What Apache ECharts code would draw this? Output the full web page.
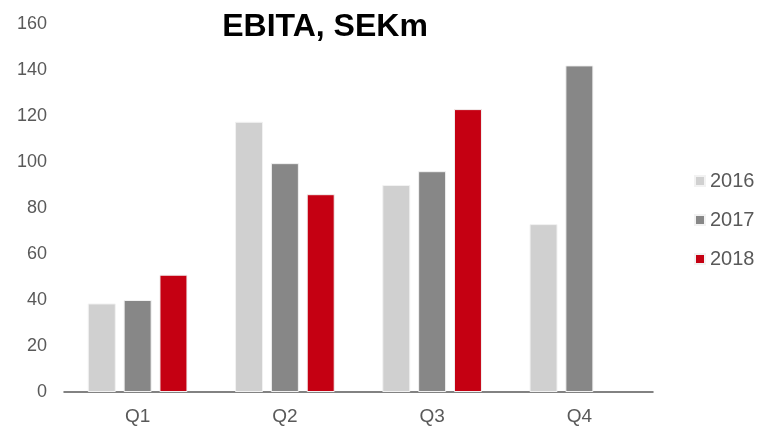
<!DOCTYPE html>
<html>
<head>
<meta charset="utf-8">
<script src="https://cdn.jsdelivr.net/npm/echarts@6/dist/echarts.min.js"></script>
<style>
  html, body { margin: 0; padding: 0; background: #fff; }
  #chart { width: 759px; height: 426px; }
</style>
</head>
<body>
<div id="chart"></div>
<script>
const quarters = ["Q1", "Q2", "Q3", "Q4"];
const ebita2016 = [38.5, 117.5, 90, 73];
const ebita2017 = [40, 99.5, 96, 142];
const ebita2018 = [51, 86, 123, null];

const colors = ["#d0d0d0", "#878787", "#c50012"];
const textColor = "#595959";
const font = "Liberation Sans, Arial, sans-serif";

function makeSeries(name, data) {
  return {
    name: name,
    type: "bar",
    data: data,
    barWidth: 28,
    barGap: "28%",
    itemStyle: { borderColor: "#f2f2f2", borderWidth: 1 },
  };
}

const chart = echarts.init(document.getElementById("chart"), null, { renderer: "canvas" });
chart.setOption({
  animation: false,
  color: colors,
  title: {
    text: "EBITA, SEKm",
    left: 325,
    top: 11,
    textAlign: "center",
    padding: 0,
    textStyle: { fontFamily: font, fontSize: 32, fontWeight: "bold", color: "#000" },
  },
  legend: {
    data: ["2016", "2017", "2018"],
    orient: "vertical",
    left: 694,
    top: 171,
    padding: 0,
    itemWidth: 10,
    itemHeight: 10,
    itemGap: 19,
    icon: "rect",
    textStyle: { fontFamily: font, fontSize: 20, color: textColor },
  },
  grid: { left: 64, right: 106, top: 24, bottom: 33 },
  xAxis: {
    type: "category",
    data: quarters,
    axisLine: { lineStyle: { color: textColor, width: 1.5 } },
    axisTick: { show: false },
    axisLabel: { fontFamily: font, fontSize: 19, color: textColor, margin: 15 },
  },
  yAxis: {
    type: "value",
    min: 0,
    max: 160,
    interval: 20,
    splitLine: { show: false },
    axisLine: { show: false },
    axisTick: { show: false },
    axisLabel: { fontFamily: font, fontSize: 18, color: textColor, margin: 17 },
  },
  series: [
    makeSeries("2016", ebita2016),
    makeSeries("2017", ebita2017),
    makeSeries("2018", ebita2018),
  ],
});
</script>
</body>
</html>
